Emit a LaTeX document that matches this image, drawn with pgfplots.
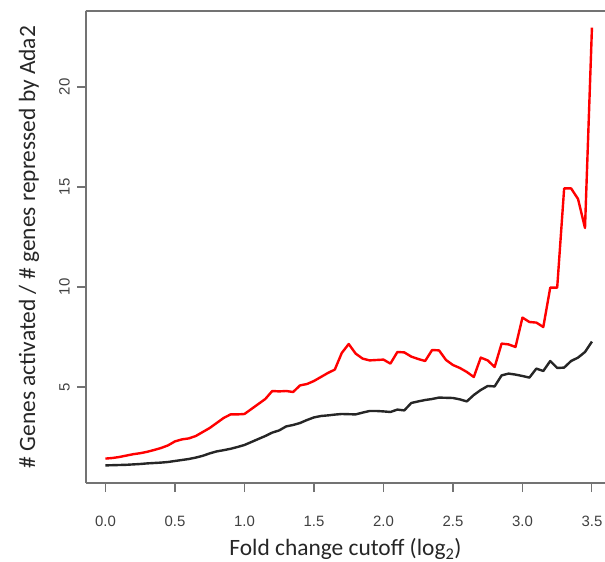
\documentclass[border=0pt]{standalone}
\usepackage{pgfplots}
\pgfplotsset{compat=1.18}
\usepackage{fontspec}
\setmainfont{Carlito}
\newfontfamily\tickfont{Liberation Sans}

\pgfplotstableread{
x y
0.00 1.42
0.05 1.45
0.10 1.50
0.15 1.57
0.20 1.64
0.25 1.69
0.30 1.76
0.35 1.85
0.40 1.95
0.45 2.08
0.50 2.28
0.55 2.38
0.60 2.43
0.65 2.55
0.70 2.75
0.75 2.95
0.80 3.20
0.85 3.45
0.90 3.63
0.95 3.63
1.00 3.65
1.05 3.90
1.10 4.15
1.15 4.40
1.20 4.80
1.25 4.78
1.30 4.80
1.35 4.75
1.40 5.08
1.45 5.15
1.50 5.30
1.55 5.50
1.60 5.70
1.65 5.87
1.70 6.70
1.75 7.15
1.80 6.67
1.85 6.42
1.90 6.33
1.95 6.35
2.00 6.37
2.05 6.17
2.10 6.75
2.15 6.73
2.20 6.52
2.25 6.40
2.30 6.30
2.35 6.85
2.40 6.83
2.45 6.35
2.50 6.10
2.55 5.95
2.60 5.75
2.65 5.50
2.70 6.47
2.75 6.33
2.80 6.00
2.85 7.17
2.90 7.13
2.95 7.00
3.00 8.47
3.05 8.25
3.10 8.22
3.15 8.00
3.20 9.97
3.25 9.97
3.30 14.93
3.35 14.93
3.40 14.40
3.45 12.95
3.50 22.97
}\redtable

\pgfplotstableread{
x y
0.00 1.08
0.05 1.09
0.10 1.10
0.15 1.11
0.20 1.13
0.25 1.15
0.30 1.18
0.35 1.20
0.40 1.22
0.45 1.25
0.50 1.30
0.55 1.35
0.60 1.40
0.65 1.47
0.70 1.56
0.75 1.68
0.80 1.78
0.85 1.84
0.90 1.91
0.95 2.00
1.00 2.10
1.05 2.25
1.10 2.40
1.15 2.55
1.20 2.72
1.25 2.83
1.30 3.03
1.35 3.10
1.40 3.20
1.45 3.35
1.50 3.48
1.55 3.55
1.60 3.58
1.65 3.62
1.70 3.65
1.75 3.64
1.80 3.63
1.85 3.72
1.90 3.80
1.95 3.80
2.00 3.78
2.05 3.75
2.10 3.87
2.15 3.83
2.20 4.20
2.25 4.28
2.30 4.35
2.35 4.40
2.40 4.47
2.45 4.46
2.50 4.45
2.55 4.38
2.60 4.28
2.65 4.60
2.70 4.85
2.75 5.05
2.80 5.03
2.85 5.58
2.90 5.67
2.95 5.62
3.00 5.55
3.05 5.47
3.10 5.92
3.15 5.80
3.20 6.30
3.25 5.95
3.30 5.97
3.35 6.30
3.40 6.47
3.45 6.75
3.50 7.27
}\blacktable

\begin{document}
\begin{tikzpicture}[x=1bp,y=1bp]
\begin{axis}[
  at={(0,0)}, anchor=south west,
  scale only axis, width=519bp, height=472bp,
  xmin=-0.14, xmax=3.594, ymin=0.2, ymax=23.8,
  axis x line*=bottom, axis y line*=left,
  axis line style={black!55, line width=1.1bp, -},
  xtick={0,0.5,1,1.5,2,2.5,3,3.5},
  xticklabels={0.0,0.5,1.0,1.5,2.0,2.5,3.0,3.5},
  ytick={5,10,15,20},
  yticklabels={5,10,15,20},
  tick align=outside, major tick length=9bp,
  tick style={black!55, line width=1.1bp},
  ticklabel style={font=\tickfont\fontsize{15}{17}\selectfont, text=black!75},
  xticklabel style={anchor=center, yshift=-29bp},
  yticklabel style={rotate=90, anchor=south, inner sep=0pt},
  yticklabel shift=7bp,
  xlabel={Fold change cutoff (log\textsubscript{2})},
  xlabel style={at={(rel axis cs:0.5,0)}, anchor=center, yshift=-66bp, font=\fontsize{23.5}{26}\selectfont, text=black!85},
  ylabel={\# Genes activated / \# genes repressed by Ada2},
  ylabel style={at={(rel axis cs:0,0.5)}, anchor=center, yshift=57bp, font=\fontsize{23.5}{26}\selectfont, text=black!85},
]
\addplot[red, line width=2.4bp, line join=round] table[x=x,y=y] {\redtable};
\addplot[black!85, line width=2.4bp, line join=round] table[x=x,y=y] {\blacktable};
\draw[black!55, line width=1.1bp, line cap=rect] (rel axis cs:0,1) -- (rel axis cs:1,1);
\end{axis}
\pgfresetboundingbox
\path[use as bounding box] (-86,-79) rectangle (519,483);
\end{tikzpicture}
\end{document}
